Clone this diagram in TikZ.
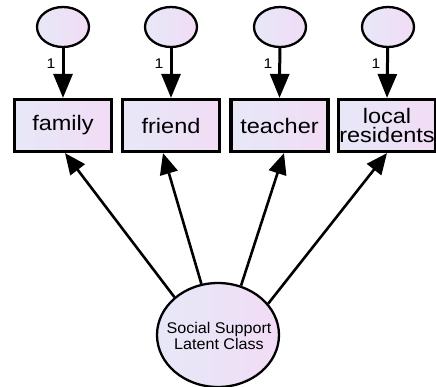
\documentclass[tikz,border=0pt]{standalone}
\usepackage{fontspec}
\setmainfont{Liberation Sans}
\newfontfamily\widefont[FakeStretch=1.12]{Liberation Sans}
\newfontfamily\midfont[FakeStretch=1.04]{Liberation Sans}
\usetikzlibrary{shapes.geometric,arrows.meta}
\definecolor{fillL}{RGB}{230,232,248}
\definecolor{fillR}{RGB}{242,220,245}
\tikzset{
  errc/.style={ellipse,draw,line width=2.3pt,left color=fillL,right color=fillR,
    minimum width=52pt,minimum height=40pt,inner sep=0pt},
  obsbox/.style={rectangle,draw,line width=3.2pt,left color=fillL,right color=fillR,
    minimum width=97pt,minimum height=52pt,inner sep=0pt,align=center,
    font=\widefont\fontsize{21}{22}\selectfont},
  latent/.style={ellipse,draw,line width=2.3pt,left color=fillL,right color=fillR,
    minimum width=122pt,minimum height=104pt,inner sep=0pt},
  latenttext/.style={align=center,inner sep=0pt,
    font=\midfont\fontsize{15.5}{16.5}\selectfont},
  loadarr/.style={line width=3pt,-{Triangle[length=24pt,width=19pt]}},
  patharr/.style={line width=2.6pt,-{Triangle[length=21pt,width=18pt]}},
  onelab/.style={font=\widefont\fontsize{14}{14}\selectfont,inner sep=0pt},
}
\begin{document}
\begin{tikzpicture}[x=1pt,y=-1pt]
\useasboundingbox (0,0) rectangle (436,386);
% error circles
\node[errc] (e1) at (63,27) {};
\node[errc] (e2) at (171,27) {};
\node[errc] (e3) at (280,27) {};
\node[errc] (e4) at (388,27) {};
% observed boxes
\node[obsbox] (b1) at (63,125.5) {family};
\node[obsbox] (b2) at (171,125.5) {friend};
\node[obsbox] (b3) at (279.5,125.5) {teacher};
\node[obsbox] (b4) at (387,125.5) {local\\[-3pt]residents};
% latent
\node[latent] (L) at (218,335) {};
\node[latenttext] (Lt) at (219,336) {Social Support\\[-1pt]Latent Class};
% loadings from errors
\foreach \i in {1,...,4}{
  \draw[loadarr] (e\i) -- (b\i.north);
}
\node[onelab] (l1) at (51,64) {1};
\node[onelab] (l2) at (159,64) {1};
\node[onelab] (l3) at (268,64) {1};
\node[onelab] (l4) at (376,64) {1};
% paths from latent
\draw[patharr] (L.139) -- ([xshift=2pt]b1.south);
\draw[patharr] (L.108) -- ([xshift=-8pt]b2.south);
\draw[patharr] (L.65) -- ([xshift=4.5pt]b3.south);
\draw[patharr] (L.32) -- (b4.south);
\end{tikzpicture}
\end{document}
